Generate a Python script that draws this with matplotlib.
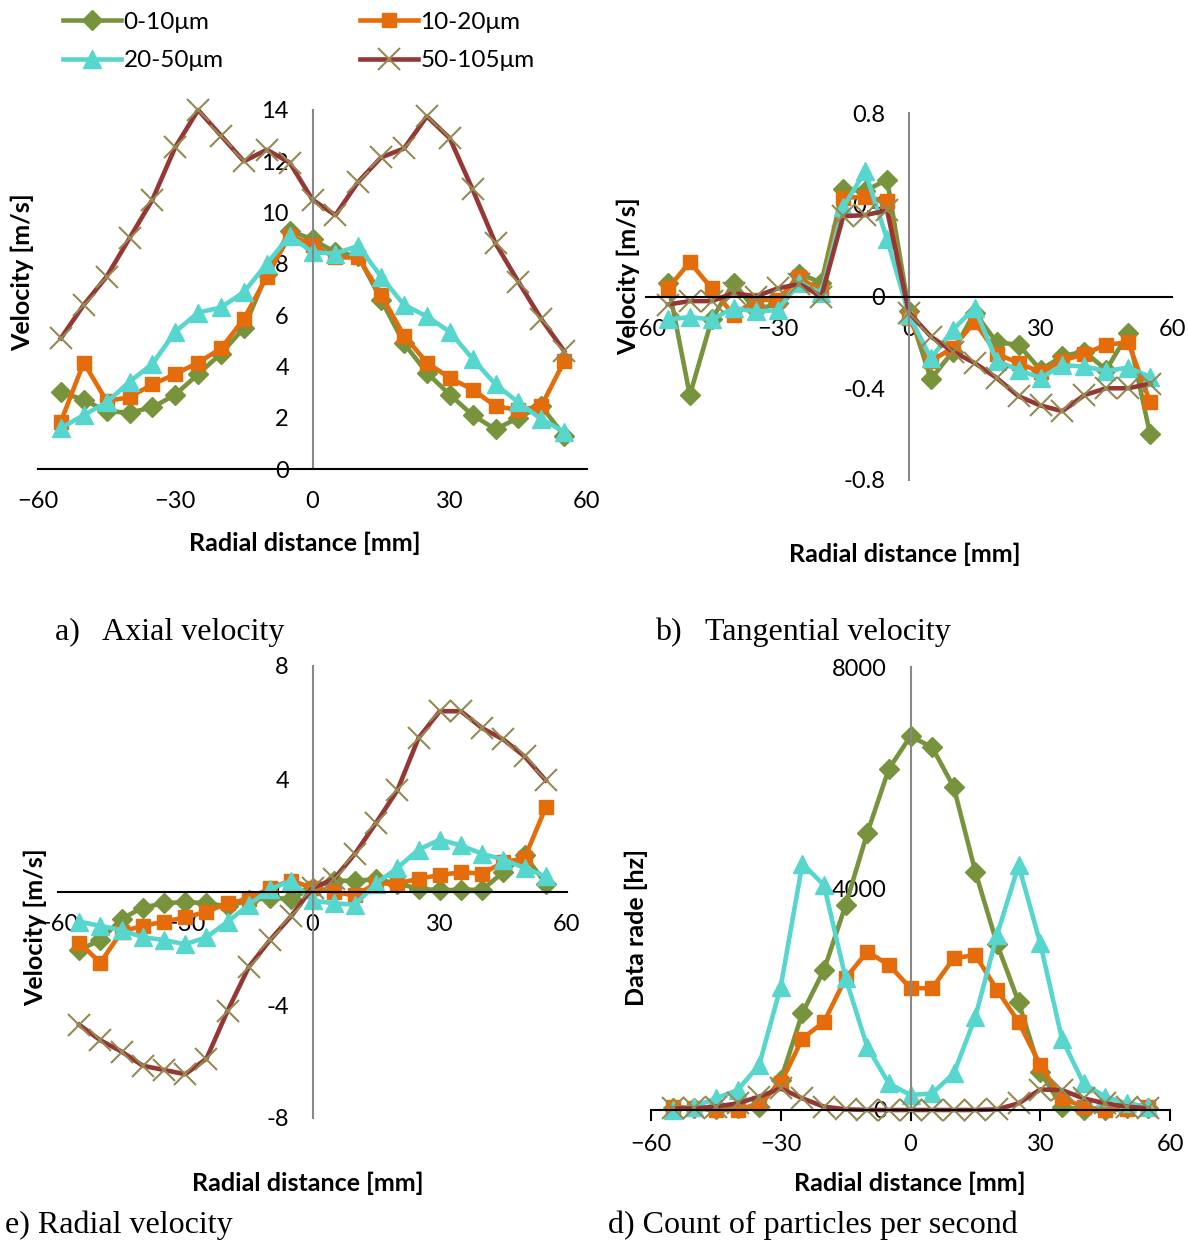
import numpy as np
import matplotlib
matplotlib.use("Agg")
import matplotlib.pyplot as plt

W, H = 1189, 1242

# radial positions [mm]
x = [-55, -50, -45, -40, -35, -30, -25, -20, -15, -10, -5, 0,
     5, 10, 15, 20, 25, 30, 35, 40, 45, 50, 55]

labels = ['0-10\u03bcm', '10-20\u03bcm', '20-50\u03bcm', '50-105\u03bcm']

# a) axial velocity [m/s]
axial_0_10 = [3.0, 2.7, 2.25, 2.2, 2.4, 2.9, 3.7, 4.5, 5.5, 7.6, 9.3, 8.95,
              8.45, 8.3, 6.6, 4.9, 3.75, 2.9, 2.1, 1.55, 2.0, 2.45, 1.3]
axial_10_20 = [1.85, 4.15, 2.65, 2.8, 3.3, 3.7, 4.15, 4.7, 5.85, 7.5, 9.1, 8.75,
               8.25, 8.25, 6.8, 5.2, 4.15, 3.55, 3.1, 2.45, 2.3, 2.45, 4.2]
axial_20_50 = [1.6, 2.1, 2.6, 3.4, 4.1, 5.35, 6.1, 6.3, 6.9, 8.0, 9.1, 8.45,
               8.4, 8.7, 7.5, 6.4, 5.95, 5.35, 4.3, 3.3, 2.6, 1.95, 1.45]
axial_50_105 = [5.1, 6.4, 7.5, 9.0, 10.5, 12.55, 14.0, 13.0, 12.0, 12.45, 11.95, 10.5,
                9.9, 11.2, 12.15, 12.5, 13.75, 12.9, 10.9, 8.8, 7.3, 5.85, 4.6]

# b) tangential velocity [m/s]
tang_0_10 = [0.06, -0.43, -0.1, 0.06, -0.06, -0.03, 0.1, 0.06, 0.47, 0.46, 0.51, -0.065,
             -0.36, -0.24, -0.07, -0.2, -0.21, -0.32, -0.26, -0.24, -0.32, -0.16, -0.6]
tang_10_20 = [0.035, 0.15, 0.035, -0.08, -0.015, -0.015, 0.085, 0.02, 0.43, 0.435, 0.415, -0.095,
              -0.28, -0.225, -0.11, -0.25, -0.29, -0.33, -0.28, -0.25, -0.21, -0.2, -0.46]
tang_20_50 = [-0.1, -0.09, -0.1, -0.05, -0.065, -0.06, 0.06, 0.015, 0.39, 0.545, 0.25, -0.08,
              -0.27, -0.145, -0.05, -0.28, -0.32, -0.355, -0.3, -0.305, -0.325, -0.31, -0.35]
tang_50_105 = [-0.035, -0.02, -0.02, 0.015, 0.0, 0.035, 0.055, 0.0, 0.35, 0.355, 0.375, -0.07,
               -0.175, -0.24, -0.29, -0.355, -0.435, -0.475, -0.5, -0.43, -0.4, -0.4, -0.38]

# e) radial velocity [m/s]
rad_0_10 = [-2.05, -1.7, -0.95, -0.55, -0.4, -0.35, -0.4, -0.5, -0.3, -0.2, -0.25, 0.15,
            0.4, 0.4, 0.45, 0.3, 0.12, 0.06, 0.08, 0.08, 0.7, 1.3, 0.3]
rad_10_20 = [-1.8, -2.5, -1.4, -1.2, -1.05, -0.9, -0.7, -0.4, -0.25, 0.15, 0.4, 0.15,
             0.0, -0.12, 0.3, 0.3, 0.47, 0.6, 0.7, 0.65, 1.05, 1.2, 3.0]
rad_20_50 = [-1.05, -1.2, -1.35, -1.6, -1.7, -1.85, -1.6, -1.05, -0.45, 0.1, 0.4, -0.3,
             -0.4, -0.45, 0.3, 0.85, 1.5, 1.85, 1.65, 1.35, 1.15, 0.85, 0.55]
rad_50_105 = [-4.7, -5.25, -5.65, -6.15, -6.3, -6.45, -5.9, -4.2, -2.65, -1.7, -0.85, 0.15,
              0.45, 1.35, 2.45, 3.6, 5.45, 6.4, 6.4, 5.8, 5.4, 4.8, 3.95]

# d) data rate [hz]
rate_0_10 = [30, 30, 10, 30, 60, 540, 1750, 2530, 3700, 5000, 6160, 6750,
             6550, 5830, 4300, 3000, 1950, 690, 60, 0, 0, 30, 30]
rate_10_20 = [60, 30, 0, 0, 120, 480, 1290, 1590, 2380, 2860, 2620, 2200,
              2200, 2740, 2800, 2170, 1590, 810, 210, 60, 0, 10, 60]
rate_20_50 = [0, 60, 210, 360, 810, 2230, 4450, 4060, 2380, 1140, 480, 270,
              300, 660, 1680, 3160, 4420, 3010, 1290, 480, 240, 120, 60]
rate_50_105 = [30, 30, 60, 120, 240, 390, 210, 60, 12, 0, 0, 0,
               0, 0, 0, 12, 120, 370, 360, 210, 120, 60, 30]

colors = ['#77933C', '#E46C0A', '#57D6CE', '#953735']
x_color = '#948A54'
font = 'Lato'

fig = plt.figure(figsize=(W / 100, H / 100), dpi=100)


def box(left, right, top, bottom):
    return [left / W, 1 - bottom / H, (right - left) / W, (bottom - top) / H]


def draw(ax, series, ylim, yticks, xticks_out=False):
    handles = []
    styles = [dict(marker='D', ms=10),
              dict(marker='s', ms=10.5),
              dict(marker='^', ms=13),
              dict(marker='x', ms=16, mec=x_color, mew=1.5)]
    for vals, c, st in zip(series, colors, styles):
        h, = ax.plot(x, vals, color=c, lw=3.3, **st)
        handles.append(h)
    ax.set_xlim(-60, 60)
    ax.set_ylim(*ylim)
    ax.spines['top'].set_visible(False)
    ax.spines['right'].set_visible(False)
    ax.spines['left'].set_position(('data', 0))
    ax.spines['bottom'].set_position(('data', 0))
    ax.spines['left'].set_color('#888888')
    ax.spines['left'].set_linewidth(1.5)
    ax.spines['bottom'].set_color('black')
    ax.spines['bottom'].set_linewidth(1.5)
    ax.set_xticks([-60, -30, 0, 30, 60])
    ax.set_yticks(yticks)
    ax.set_yticklabels([f'{v:g}' for v in yticks])
    ax.tick_params(axis='y', length=0, pad=17, labelsize=17)
    if xticks_out:
        ax.tick_params(axis='x', length=8, width=1.5, direction='out', pad=9, labelsize=17)
    else:
        ax.tick_params(axis='x', length=0, pad=16, labelsize=17)
    for t in ax.get_xticklabels() + ax.get_yticklabels():
        t.set_fontfamily(font)
    ax.patch.set_alpha(0)
    for ln in ax.lines:
        ln.set_clip_on(False)
    return handles


ax_a = fig.add_axes(box(38, 587, 110, 469))
handles = draw(ax_a, [axial_0_10, axial_10_20, axial_20_50, axial_50_105],
               (0, 14), [0, 2, 4, 6, 8, 10, 12, 14])

ax_b = fig.add_axes(box(646, 1172, 113, 480))
draw(ax_b, [tang_0_10, tang_10_20, tang_20_50, tang_50_105],
     (-0.8, 0.8), [-0.8, -0.4, 0, 0.4, 0.8])

ax_e = fig.add_axes(box(58, 567, 666, 1118))
draw(ax_e, [rad_0_10, rad_10_20, rad_20_50, rad_50_105],
     (-8, 8), [-8, -4, 0, 4, 8])

ax_d = fig.add_axes(box(651, 1170, 667, 1110))
draw(ax_d, [rate_0_10, rate_10_20, rate_20_50, rate_50_105],
     (0, 8000), [0, 4000, 8000], xticks_out=True)


def ftext(px, py, s, **kw):
    fig.text(px / W, 1 - py / H, s, **kw)


# axis titles
lab = dict(fontsize=18, fontweight='bold', family=font, ha='center', va='center')
ftext(305, 543, 'Radial distance [mm]', **lab)
ftext(905, 554, 'Radial distance [mm]', **lab)
ftext(308, 1183, 'Radial distance [mm]', **lab)
ftext(910, 1183, 'Radial distance [mm]', **lab)
ftext(22, 272, 'Velocity [m/s]', rotation=90, **lab)
ftext(628, 276, 'Velocity [m/s]', rotation=90, **lab)
ftext(35, 927, 'Velocity [m/s]', rotation=90, **lab)
ftext(636, 927, 'Data rade [hz]', rotation=90, **lab)

# captions
cap = dict(fontsize=23, family='Liberation Serif', ha='left', va='center')
ftext(55, 632, 'a)   Axial velocity', **cap)
ftext(655, 632, 'b)   Tangential velocity', **cap)
ftext(5, 1225, 'e) Radial velocity', **cap)
ftext(608, 1225, 'd) Count of particles per second', **cap)

# legend (column-wise fill -> reorder)
order = [0, 2, 1, 3]
leg = fig.legend([handles[i] for i in order], [labels[i] for i in order],
                 ncol=2, loc='upper left', bbox_to_anchor=(58 / W, 1 - 7 / H),
                 frameon=False, handlelength=2.4, handletextpad=0.1,
                 columnspacing=5.6, labelspacing=0.72, borderpad=0.2,
                 borderaxespad=0, prop={'family': font, 'size': 17.5})

fig.savefig('out.png', dpi=100)
